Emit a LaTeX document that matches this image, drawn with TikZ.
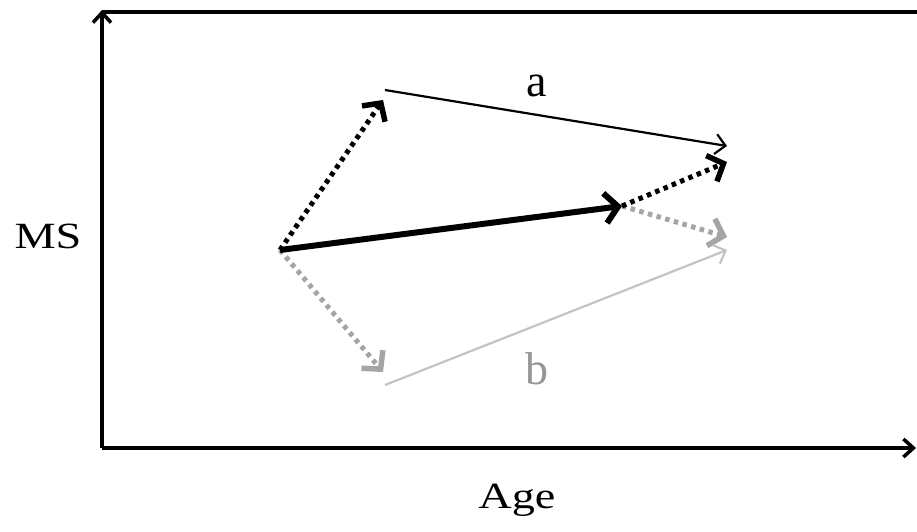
\documentclass[tikz,border=0pt]{standalone}
\usepackage{fontspec}
\setmainfont{Liberation Serif}
\newfontfamily\widefont[FakeStretch=1.25]{Liberation Serif}
\usetikzlibrary{arrows.meta}
\definecolor{lightg}{RGB}{165,165,165}
\definecolor{paleg}{RGB}{195,195,195}
\definecolor{labg}{RGB}{150,150,150}
\tikzset{
  axis/.style={line width=4pt,-{Straight Barb[length=10pt,width=18pt,line width=3.5pt]}},
  thin arr/.style={line width=2.2pt,-{Straight Barb[length=10pt,width=20pt,line width=2.2pt]}},
  dot arr/.style={line width=5pt,dash pattern=on 4.5pt off 4.5pt,-{Straight Barb[length=13pt,width=28pt,line width=5.5pt]}},
  thick arr/.style={line width=6pt,-{Straight Barb[length=13pt,width=30pt,line width=6pt]}},
  axlabel/.style={font=\widefont\fontsize{37}{40}\selectfont},
  letterlabel/.style={font=\fontsize{46}{50}\selectfont}
}
\begin{document}
\begin{tikzpicture}[x=1pt,y=-1pt]
\useasboundingbox (0,0) rectangle (917,531);
\coordinate (org) at (102,448);
\coordinate (ytop) at (102,10);
\coordinate (xend) at (916,448);
\coordinate (tl) at (102,12);
\coordinate (tr) at (917,12);
\draw[line width=4pt] (tl) -- (tr);
\draw[axis] (org) -- (ytop);
\draw[axis] (org) -- (xend);
\coordinate (O) at (280,250);
\coordinate (A1) at (383,100);
\coordinate (A0) at (385,90);
\coordinate (A2) at (727,146);
\coordinate (M) at (622,206);
\coordinate (MA) at (727,162);
\coordinate (MB) at (727,237);
\coordinate (B1) at (383,372);
\coordinate (B0) at (385,385);
\coordinate (B2) at (727,250);
% gray first
\draw[dot arr,draw=lightg] (O) -- (B1);
\draw[dot arr,draw=lightg] (M) -- (MB);
\draw[thin arr,draw=paleg] (B0) -- (B2);
% black
\draw[dot arr] (O) -- (A1);
\draw[thin arr] (A0) -- (A2);
\draw[dot arr] (M) -- (MA);
\draw[thick arr] (O) -- (M);
\node[letterlabel] (la) at (537,86) {a};
\node[letterlabel,text=labg] (lb) at (537,369) {b};
\node[axlabel] (ms) at (48,236) {MS};
\node[axlabel] (age) at (517,500) {Age};
\end{tikzpicture}
\end{document}
